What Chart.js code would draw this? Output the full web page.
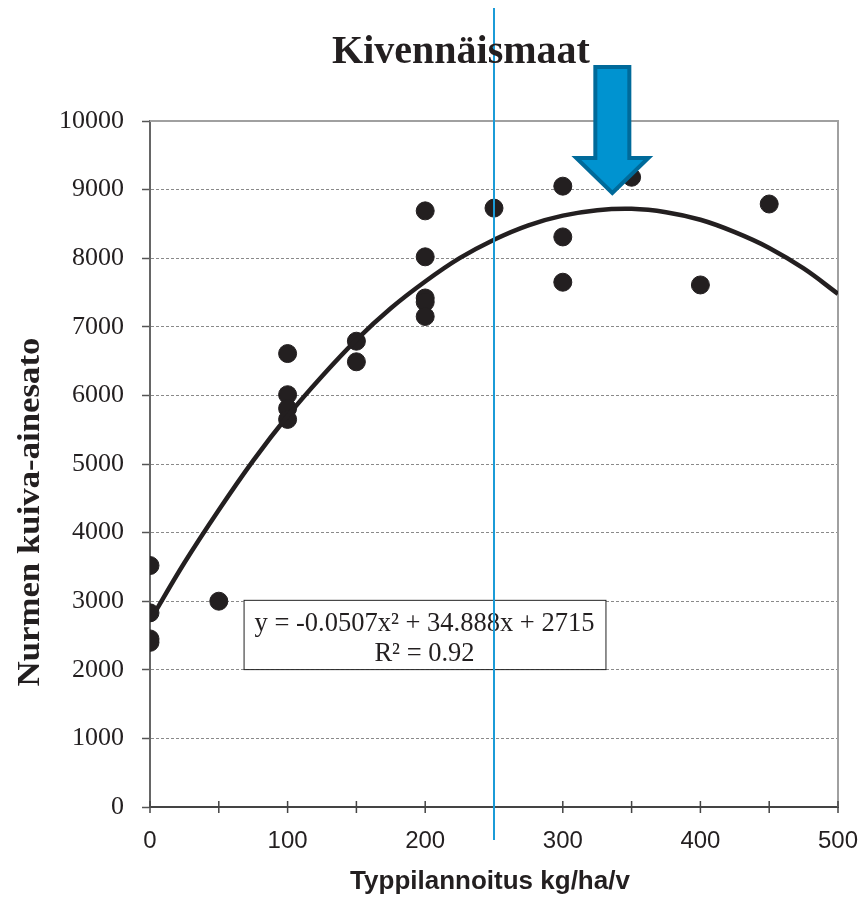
<!DOCTYPE html>
<html>
<head>
<meta charset="utf-8">
<script src="https://cdn.jsdelivr.net/npm/chart.js@4.4.1/dist/chart.umd.min.js"></script>
<style>
  html, body { margin: 0; padding: 0; background: #fff; }
  canvas { display: block; }
</style>
</head>
<body>
<canvas id="chart" width="863" height="897"></canvas>
<script>
// havaintopisteet: typpilannoitus (kg/ha/v) ja kuiva-ainesato
const nRates = [0, 0, 0, 0, 50, 100, 100, 100, 100, 150, 150, 200, 200, 200, 200, 200, 250, 300, 300, 300, 350, 400, 450];
const yields = [3520, 2830, 2450, 2400, 3000, 6610, 6010, 5810, 5650, 6790, 6490, 8690, 8020, 7420, 7360, 7150, 8730, 9050, 8310, 7650, 9180, 7610, 8790];

// trendiviiva luettuna kuvasta
const trendX = [0, 25, 50, 75, 100, 125, 150, 175, 200, 225, 250, 275, 300, 325, 350, 375, 400, 425, 450, 475, 500];
const trendY = [2715, 3560, 4330, 5050, 5700, 6280, 6810, 7270, 7660, 8000, 8270, 8480, 8620, 8700, 8720, 8670, 8560, 8380, 8150, 7850, 7480];

const xTicks = [0, 100, 200, 300, 400, 500];
const yTicks = [0, 1000, 2000, 3000, 4000, 5000, 6000, 7000, 8000, 9000, 10000];

const titleText = "Kivennäismaat";
const xTitle = "Typpilannoitus kg/ha/v";
const yTitle = "Nurmen kuiva-ainesato";
const eqLines = ["y = -0.0507x\u00B2 + 34.888x + 2715", "R\u00B2 = 0.92"];
const markerX = 250;

const points = nRates.map((x, i) => ({ x: x, y: yields[i] }));
const trend = trendX.map((x, i) => ({ x: x, y: trendY[i] }));

const extras = {
    id: "extras",
    beforeDatasetsDraw(chart) {
        const { ctx, chartArea: a, scales } = chart;
        ctx.save();
        // kehys ylä- ja oikealle
        ctx.strokeStyle = "#a0a0a0";
        ctx.lineWidth = 2;
        ctx.beginPath();
        ctx.moveTo(a.left, a.top);
        ctx.lineTo(a.right, a.top);
        ctx.lineTo(a.right, a.bottom);
        ctx.stroke();
        // x-akselin jakoviivat
        ctx.strokeStyle = "#444";
        ctx.lineWidth = 1.5;
        for (let v = 0; v <= 500; v += 50) {
            const px = scales.x.getPixelForValue(v);
            ctx.beginPath();
            ctx.moveTo(px, a.bottom - 6);
            ctx.lineTo(px, a.bottom + 6);
            ctx.stroke();
        }
        ctx.restore();
    },
    afterDatasetsDraw(chart) {
        const { ctx, chartArea: a, scales } = chart;
        const xs = scales.x, ys = scales.y;
        ctx.save();

        // yhtälölaatikko
        const bx1 = xs.getPixelForValue(68), bx2 = xs.getPixelForValue(331);
        const by1 = ys.getPixelForValue(3020), by2 = ys.getPixelForValue(2010);
        ctx.fillStyle = "#fff";
        ctx.fillRect(bx1, by1, bx2 - bx1, by2 - by1);
        ctx.strokeStyle = "#222";
        ctx.lineWidth = 1;
        ctx.strokeRect(bx1 + 0.5, by1 + 0.5, bx2 - bx1, by2 - by1);
        ctx.fillStyle = "#231f20";
        ctx.font = "26.5px 'Liberation Serif'";
        ctx.textAlign = "center";
        ctx.textBaseline = "alphabetic";
        const cx = (bx1 + bx2) / 2;
        ctx.fillText(eqLines[0], cx, by1 + 31);
        ctx.fillText(eqLines[1], cx, by1 + 61);

        // pystyviiva
        const mx = xs.getPixelForValue(markerX);
        ctx.strokeStyle = "#1b9bd7";
        ctx.lineWidth = 2;
        ctx.beginPath();
        ctx.moveTo(mx, 8);
        ctx.lineTo(mx, a.bottom + 33);
        ctx.stroke();

        // nuoli
        const tipX = xs.getPixelForValue(336), tipY = ys.getPixelForValue(8950);
        const shaftHalf = 17, headHalf = 36, headH = 35, topY = 67;
        ctx.beginPath();
        ctx.moveTo(tipX - shaftHalf, topY);
        ctx.lineTo(tipX + shaftHalf, topY);
        ctx.lineTo(tipX + shaftHalf, tipY - headH);
        ctx.lineTo(tipX + headHalf, tipY - headH);
        ctx.lineTo(tipX, tipY);
        ctx.lineTo(tipX - headHalf, tipY - headH);
        ctx.lineTo(tipX - shaftHalf, tipY - headH);
        ctx.closePath();
        ctx.fillStyle = "#0093d0";
        ctx.fill();
        ctx.strokeStyle = "#006a9a";
        ctx.lineWidth = 4;
        ctx.lineJoin = "miter";
        ctx.stroke();
        ctx.restore();
    },
    afterDraw(chart) {
        const { ctx } = chart;
        ctx.save();
        ctx.fillStyle = "#231f20";
        ctx.textAlign = "center";
        ctx.textBaseline = "alphabetic";
        ctx.font = "bold 40px 'Liberation Serif'";
        ctx.fillText(titleText, 461, 63);

        ctx.font = "bold 26px 'Liberation Sans'";
        ctx.fillText(xTitle, 490, 889);

        // y-akselin otsikko
        ctx.font = "bold 32px 'Liberation Serif'";
        const w = ctx.measureText(yTitle).width;
        ctx.translate(39, 512);
        ctx.rotate(-Math.PI / 2);
        ctx.scale(349 / w, 1);
        ctx.fillText(yTitle, 0, 0);
        ctx.restore();
    }
};

new Chart(document.getElementById("chart"), {
    type: "scatter",
    data: {
        datasets: [
            {
                type: "line",
                data: trend,
                borderColor: "#231f20",
                borderWidth: 4.5,
                pointRadius: 0,
                tension: 0.4,
                fill: false
            },
            {
                data: points,
                backgroundColor: "#231f20",
                borderColor: "#231f20",
                pointRadius: 9,
                pointHoverRadius: 9
            }
        ]
    },
    options: {
        responsive: false,
        animation: false,
        events: [],
        layout: { padding: { left: 0, top: 121, right: 25, bottom: 0 } },
        plugins: { legend: { display: false }, tooltip: { enabled: false } },
        scales: {
            x: {
                type: "linear",
                min: 0,
                max: 500,
                afterFit: s => { s.height = 90; s.paddingLeft = 0; s.paddingRight = 0; },
                afterBuildTicks: s => { s.ticks = xTicks.map(v => ({ value: v })); },
                ticks: {
                    padding: 12,
                    color: "#231f20",
                    font: { family: "'Liberation Sans'", size: 24 },
                    maxRotation: 0,
                    autoSkip: false
                },
                grid: { display: false },
                border: { color: "#444", width: 2 }
            },
            y: {
                min: 0,
                max: 10000,
                afterFit: s => { s.width = 150; s.paddingTop = 0; s.paddingBottom = 0; },
                afterBuildTicks: s => { s.ticks = yTicks.map(v => ({ value: v })); },
                ticks: {
                    padding: 18,
                    color: "#231f20",
                    font: { family: "'Liberation Serif'", size: 26 },
                    callback: v => String(v)
                },
                grid: {
                    color: "#8a8a8a",
                    lineWidth: 1,
                    tickLength: 8,
                    tickColor: "#555",
                    tickWidth: 1.5
                },
                border: { color: "#666", width: 2, dash: [3, 2] }
            }
        }
    },
    plugins: [extras]
});
</script>
</body>
</html>
